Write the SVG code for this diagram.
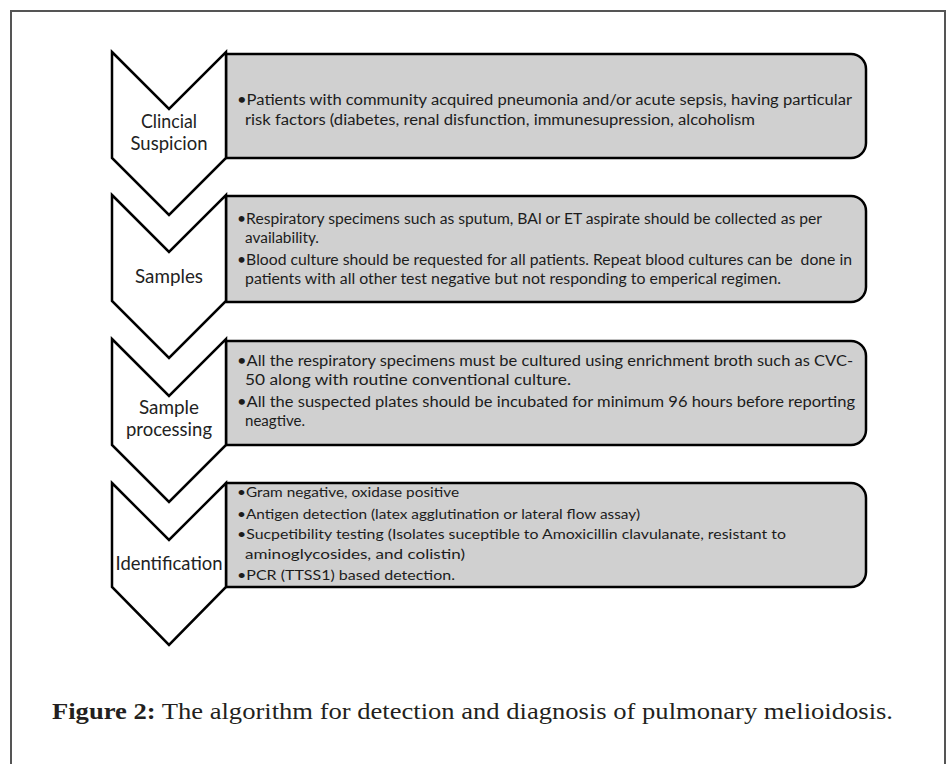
<svg xmlns="http://www.w3.org/2000/svg" width="947" height="764" viewBox="0 0 947 764">
<style>
.frame{fill:#fff;stroke:#555;stroke-width:2}
.box{fill:#d0d0d0;stroke:#000;stroke-width:2.5;stroke-linejoin:round}
.chev{fill:#fff;stroke:#000;stroke-width:2.5;stroke-linejoin:miter}
.lbl{font-family:Lato,"Open Sans","Liberation Sans",sans-serif;font-size:19px;fill:#222;text-anchor:middle}
.t{font-family:Lato,"Open Sans","Liberation Sans",sans-serif;font-size:15.5px;fill:#1c1c1c}
.s{font-family:Lato,"Open Sans","Liberation Sans",sans-serif;font-size:14px;fill:#1c1c1c}
.cap{font-family:"Liberation Serif","Times New Roman",serif;font-size:24px;fill:#231f20}
</style>
<rect class="frame" x="11" y="11" width="934" height="780"/>
<g id="connectors"></g>
<g id="step1">
<path class="box" d="M226,54 H851 A15,15 0 0 1 866,69 V143 A15,15 0 0 1 851,158 H226 Z"/>
<path class="chev" d="M112,52 L169,109 L226,52 L226,158 L169,215 L112,158 Z"/>
<text class="lbl" x="169" y="128" textLength="56" lengthAdjust="spacingAndGlyphs">Clincial</text>
<text class="lbl" x="169" y="150" textLength="77" lengthAdjust="spacingAndGlyphs">Suspicion</text>
<text class="t" x="237" y="105" textLength="615" lengthAdjust="spacingAndGlyphs">•Patients with community acquired pneumonia and/or acute sepsis, having particular</text>
<text class="t" x="245" y="125" textLength="510" lengthAdjust="spacingAndGlyphs">risk factors (diabetes, renal disfunction, immunesupression, alcoholism</text>
</g>
<g id="step2">
<path class="box" d="M226,196 H851 A15,15 0 0 1 866,211 V287 A15,15 0 0 1 851,302 H226 Z"/>
<path class="chev" d="M112,195 L169,252 L226,195 L226,301 L169,358 L112,301 Z"/>
<text class="lbl" x="169" y="283" textLength="68" lengthAdjust="spacingAndGlyphs">Samples</text>
<text class="t" x="237" y="224" textLength="585" lengthAdjust="spacingAndGlyphs">•Respiratory specimens such as sputum, BAl or ET aspirate should be collected as per</text>
<text class="t" x="245" y="243" textLength="74" lengthAdjust="spacingAndGlyphs">availability.</text>
<text class="t" x="237" y="265" textLength="615" lengthAdjust="spacingAndGlyphs" xml:space="preserve">•Blood culture should be requested for all patients. Repeat blood cultures can be  done in</text>
<text class="t" x="245" y="284" textLength="536" lengthAdjust="spacingAndGlyphs">patients with all other test negative but not responding to emperical regimen.</text>
</g>
<g id="step3">
<path class="box" d="M226,341 H851 A15,15 0 0 1 866,356 V430 A15,15 0 0 1 851,445 H226 Z"/>
<path class="chev" d="M112,339 L169,396 L226,339 L226,445 L169,502 L112,445 Z"/>
<text class="lbl" x="169" y="414" textLength="60" lengthAdjust="spacingAndGlyphs">Sample</text>
<text class="lbl" x="169" y="436" textLength="86" lengthAdjust="spacingAndGlyphs">processing</text>
<text class="t" x="237" y="366" textLength="616" lengthAdjust="spacingAndGlyphs">•All the respiratory specimens must be cultured using enrichment broth such as CVC-</text>
<text class="t" x="245" y="385" textLength="326" lengthAdjust="spacingAndGlyphs">50 along with routine conventional culture.</text>
<text class="t" x="237" y="407" textLength="618" lengthAdjust="spacingAndGlyphs">•All the suspected plates should be incubated for minimum 96 hours before reporting</text>
<text class="t" x="245" y="426" textLength="60" lengthAdjust="spacingAndGlyphs">neagtive.</text>
</g>
<g id="step4">
<path class="box" d="M226,483 H851 A15,15 0 0 1 866,498 V572 A15,15 0 0 1 851,587 H226 Z"/>
<path class="chev" d="M112,483 L169,540 L226,483 L226,587 L169,645 L112,587 Z"/>
<text class="lbl" x="169" y="570" textLength="107" lengthAdjust="spacingAndGlyphs">Identification</text>
<text class="s" x="237" y="497" textLength="222" lengthAdjust="spacingAndGlyphs">•Gram negative, oxidase positive</text>
<text class="s" x="237" y="519" textLength="403" lengthAdjust="spacingAndGlyphs">•Antigen detection (latex agglutination or lateral flow assay)</text>
<text class="s" x="237" y="539" textLength="549" lengthAdjust="spacingAndGlyphs">•Sucpetibility testing (Isolates suceptible to Amoxicillin clavulanate, resistant to</text>
<text class="s" x="245" y="559" textLength="220" lengthAdjust="spacingAndGlyphs">aminoglycosides, and colistin)</text>
<text class="s" x="237" y="580" textLength="218" lengthAdjust="spacingAndGlyphs">•PCR (TTSS1) based detection.</text>
</g>
<g id="caption">
<text class="cap" x="52" y="719" textLength="841" lengthAdjust="spacingAndGlyphs"><tspan font-weight="bold">Figure 2:</tspan> The algorithm for detection and diagnosis of pulmonary melioidosis.</text>
</g>
</svg>
